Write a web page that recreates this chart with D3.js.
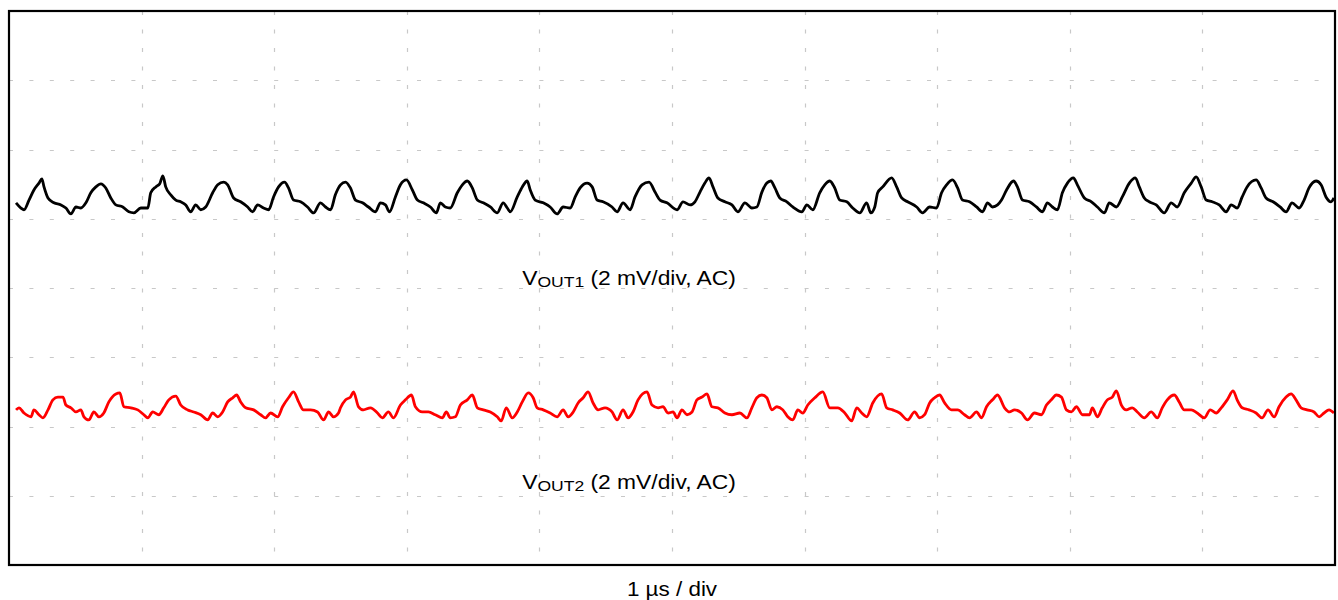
<!DOCTYPE html>
<html>
<head>
<meta charset="utf-8">
<script src="https://cdn.jsdelivr.net/npm/d3@7"></script>
<style>
  html, body { margin: 0; padding: 0; background: #fff; }
  svg { display: block; }
  .scope-label { font-family: "Liberation Sans", Arial, sans-serif; fill: #000; }
</style>
</head>
<body>
<div id="chart"></div>
<script>
// scope capture: VOUT1 / VOUT2 ripple, 1 us/div, 2 mV/div

// time axis (us) and screen range (mV, 8 divisions of 2 mV)
const timeDomain = [0, 10];
const voltDomain = [-8, 8];
const ch1Offset = 2.40;   // mV, trace position on screen
const ch2Offset = -3.52;

// VOUT1 samples: time (us), ripple (mV)
const t1 = [0.053,0.090,0.113,0.151,0.188,0.226,0.248,0.264,0.294,0.339,0.392,0.429,0.467,0.505,0.542,0.580,0.617,0.655,0.693,0.730,0.768,0.806,0.858,0.904,0.941,0.994,1.047,1.069,1.107,1.137,1.160,1.182,1.220,1.258,1.295,1.333,1.370,1.408,1.446,1.483,1.536,1.574,1.619,1.649,1.694,1.747,1.800,1.837,1.875,1.920,1.958,1.995,2.033,2.078,2.108,2.146,2.199,2.251,2.297,2.349,2.387,2.425,2.462,2.500,2.538,2.575,2.613,2.666,2.711,2.764,2.801,2.839,2.869,2.914,2.952,2.997,3.042,3.080,3.125,3.178,3.223,3.253,3.291,3.328,3.381,3.419,3.456,3.494,3.532,3.577,3.630,3.682,3.727,3.758,3.780,3.833,3.871,3.908,3.931,3.968,4.029,4.081,4.134,4.179,4.232,4.270,4.307,4.360,4.398,4.435,4.480,4.548,4.586,4.631,4.684,4.721,4.774,4.827,4.872,4.910,4.962,5.038,5.083,5.136,5.173,5.211,5.248,5.279,5.309,5.346,5.399,5.452,5.497,5.550,5.602,5.640,5.678,5.715,5.745,5.776,5.813,5.866,5.911,5.979,6.017,6.062,6.114,6.152,6.190,6.227,6.265,6.318,6.363,6.416,6.468,6.499,6.529,6.551,6.589,6.657,6.694,6.732,6.777,6.845,6.890,6.943,6.995,7.033,7.071,7.116,7.154,7.191,7.244,7.297,7.342,7.380,7.417,7.455,7.485,7.523,7.575,7.605,7.643,7.696,7.748,7.794,7.831,7.869,7.907,7.944,7.982,8.027,8.057,8.110,8.163,8.208,8.261,8.298,8.351,8.396,8.449,8.494,8.524,8.562,8.599,8.652,8.712,8.765,8.810,8.863,8.916,8.953,8.991,9.029,9.074,9.127,9.179,9.217,9.262,9.300,9.337,9.405,9.443,9.480,9.533,9.586,9.631,9.676,9.729,9.767,9.804,9.857,9.895,9.932,9.970,9.992];
const vout1 = [0.06,-0.09,-0.14,0.14,0.43,0.63,0.75,0.52,0.20,0.06,0,-0.09,-0.26,-0.06,-0.09,0.06,0.35,0.52,0.61,0.49,0.20,0,-0.06,-0.20,-0.23,-0.09,-0.09,0.35,0.52,0.61,0.84,0.52,0.29,0.14,0.09,0,-0.20,0,-0.14,-0.06,0.35,0.58,0.66,0.58,0.20,0.09,-0.06,-0.20,0,-0.09,-0.14,0.23,0.52,0.66,0.49,0.14,0.09,-0.06,-0.23,0.06,-0.06,-0.14,0.30,0.58,0.66,0.49,0.14,0.06,-0.06,-0.20,0.06,0,-0.20,0.23,0.58,0.72,0.43,0.14,0.06,-0.06,-0.23,0.06,-0.06,-0.09,0.35,0.58,0.69,0.49,0.14,0.06,-0.06,-0.23,0.06,-0.09,-0.20,0.23,0.52,0.69,0.43,0.14,0.06,-0.06,-0.26,-0.06,-0.09,0.23,0.49,0.63,0.52,0.14,0.09,-0.06,-0.20,0.06,-0.14,0.23,0.58,0.66,0.37,0.14,0.06,-0.14,0.09,0,0.09,0.37,0.63,0.78,0.52,0.20,0.09,0,-0.20,0.06,-0.09,-0.06,0.37,0.63,0.69,0.49,0.20,0.09,-0.06,-0.20,0,-0.14,0.35,0.58,0.69,0.49,0.14,0.09,-0.09,-0.23,0.06,-0.23,-0.06,0.35,0.52,0.78,0.52,0.20,0.09,-0.06,-0.23,-0.06,-0.09,0.35,0.58,0.72,0.49,0.14,0.09,-0.06,-0.20,0.06,-0.06,0,0.14,0.43,0.69,0.52,0.14,0.09,-0.06,-0.20,0.06,-0.06,-0.14,0.35,0.63,0.78,0.58,0.20,0.09,-0.06,-0.23,0.06,-0.06,0.23,0.63,0.78,0.52,0.20,0.09,0,-0.23,0.06,-0.06,0.35,0.63,0.81,0.52,0.14,0.09,0,-0.20,0,-0.09,0.23,0.52,0.72,0.49,0.20,0.09,-0.06,-0.20,0.06,-0.09,0.14,0.49,0.69,0.58,0.23,0.09,0.20];

// VOUT2 samples: time (us), ripple (mV)
const t2 = [0.053,0.075,0.113,0.166,0.188,0.226,0.256,0.294,0.331,0.369,0.407,0.429,0.467,0.505,0.542,0.565,0.602,0.640,0.678,0.715,0.753,0.806,0.836,0.866,0.919,0.971,1.017,1.047,1.084,1.130,1.167,1.205,1.258,1.295,1.348,1.393,1.446,1.498,1.536,1.574,1.611,1.649,1.687,1.717,1.747,1.785,1.845,1.898,1.935,1.973,2.026,2.063,2.108,2.146,2.184,2.221,2.274,2.327,2.372,2.410,2.447,2.485,2.500,2.538,2.575,2.598,2.636,2.673,2.726,2.779,2.816,2.861,2.899,2.952,2.990,3.035,3.065,3.117,3.163,3.215,3.268,3.298,3.328,3.366,3.404,3.456,3.494,3.532,3.577,3.630,3.682,3.712,3.750,3.795,3.833,3.871,3.916,3.953,3.983,4.029,4.081,4.134,4.179,4.217,4.255,4.292,4.330,4.367,4.405,4.443,4.495,4.548,4.586,4.631,4.669,4.706,4.744,4.812,4.849,4.895,4.932,4.970,5.008,5.038,5.075,5.113,5.151,5.188,5.226,5.264,5.301,5.346,5.399,5.452,5.512,5.565,5.602,5.640,5.678,5.715,5.753,5.791,5.836,5.873,5.911,5.949,5.986,6.024,6.077,6.137,6.190,6.250,6.303,6.355,6.393,6.431,6.468,6.514,6.581,6.619,6.664,6.717,6.777,6.830,6.867,6.905,6.943,6.980,7.018,7.056,7.108,7.154,7.206,7.244,7.297,7.334,7.372,7.417,7.455,7.508,7.545,7.583,7.636,7.681,7.733,7.786,7.824,7.861,7.899,7.937,7.974,8.012,8.050,8.095,8.148,8.170,8.208,8.245,8.283,8.321,8.351,8.389,8.426,8.471,8.509,8.562,8.614,8.660,8.697,8.735,8.788,8.825,8.863,8.916,8.961,9.014,9.059,9.104,9.142,9.187,9.232,9.262,9.300,9.352,9.405,9.450,9.495,9.541,9.578,9.631,9.669,9.706,9.744,9.789,9.842,9.880,9.917,9.955,9.992];
const vout2 = [0,0.06,-0.09,-0.20,0,-0.14,-0.23,0,0.29,0.37,0.37,0.14,0.06,-0.06,0,-0.20,-0.29,-0.06,-0.20,-0.09,0.23,0.46,0.49,0.09,0.06,0,-0.14,-0.23,-0.06,-0.14,0.06,0.29,0.40,0.14,0,-0.06,-0.14,-0.29,-0.09,-0.20,-0.06,0.23,0.35,0.43,0.23,0.06,0,-0.14,-0.23,-0.09,-0.20,0.09,0.35,0.52,0.23,0,0,-0.06,-0.29,-0.06,-0.20,-0.09,0.06,0.29,0.37,0.52,0.09,0,0.06,-0.09,-0.23,-0.06,-0.23,0.14,0.29,0.43,0.09,-0.06,-0.06,-0.14,-0.23,-0.06,-0.23,-0.20,0.14,0.29,0.43,0.06,0,-0.06,-0.20,-0.32,0.06,-0.23,-0.06,0.23,0.49,0.35,0.06,0,-0.09,-0.20,0,-0.20,-0.06,0.20,0.35,0.52,0.20,0,0.06,-0.06,-0.29,0,-0.23,-0.06,0.29,0.52,0.14,0.06,0.09,-0.09,-0.06,-0.23,0,-0.14,-0.06,0.29,0.37,0.46,0.09,0.06,-0.09,-0.14,-0.09,-0.23,0.06,0.35,0.43,0.35,0,0.09,0,-0.20,-0.29,0,-0.09,0.14,0.35,0.52,0.06,0.06,-0.09,-0.32,0.06,-0.09,-0.20,0.20,0.46,0.06,0,-0.09,-0.29,-0.06,-0.23,-0.14,0.20,0.35,0.43,0.20,0,0,-0.14,-0.23,-0.06,-0.23,0.09,0.29,0.43,0.06,-0.06,0,-0.09,-0.29,-0.09,-0.14,0.14,0.29,0.43,0.37,0,-0.06,0.09,-0.14,-0.14,0.06,-0.20,0.06,0.29,0.37,0.55,0.14,0,0.06,-0.06,-0.23,-0.06,-0.23,0.06,0.29,0.43,0.23,0,0,-0.09,-0.23,0,-0.09,0.06,0.29,0.55,0.29,0.06,0,-0.09,-0.23,0,-0.20,0.09,0.37,0.46,0.29,0.06,0,-0.06,-0.20,-0.09,0,-0.09];

// annotations
const ch1Label = { main: "V", sub: "OUT1", rest: " (2 mV/div, AC)", t: 3.87, v: 0.1 };
const ch2Label = { main: "V", sub: "OUT2", rest: " (2 mV/div, AC)", t: 3.87, v: -5.8 };
const timeLabel = "1 \u00b5s / div";

const W = 1338, H = 600;
const frame = { left: 9, top: 11, right: 1335, bottom: 565 };

const svg = d3.select("#chart").append("svg").attr("width", W).attr("height", H);

const x = d3.scaleLinear().domain(timeDomain).range([frame.left, frame.right]);
const y = d3.scaleLinear().domain(voltDomain).range([frame.bottom, frame.top]);

// dashed graticule
const grid = svg.append("g").attr("stroke", "#c8c8c8").attr("stroke-width", 1.2);
grid.selectAll("line.v").data(x.ticks(10).slice(1, -1)).enter().append("line")
  .attr("class", "v")
  .attr("x1", d => Math.round(x(d)) + 0.5).attr("x2", d => Math.round(x(d)) + 0.5)
  .attr("y1", frame.top).attr("y2", frame.bottom)
  .attr("stroke-dasharray", "4,14.5");
grid.selectAll("line.h").data(d3.range(voltDomain[0] + 2, voltDomain[1], 2)).enter().append("line")
  .attr("class", "h")
  .attr("y1", d => Math.round(y(d)) + 0.5).attr("y2", d => Math.round(y(d)) + 0.5)
  .attr("x1", frame.left).attr("x2", frame.right)
  .attr("stroke-dasharray", "4,16.4");

// traces
const line = d3.line().curve(d3.curveMonotoneX).x(d => x(d[0])).y(d => y(d[1]));
const trace1 = t1.map((t, i) => [t, vout1[i] + ch1Offset]);
const trace2 = t2.map((t, i) => [t, vout2[i] + ch2Offset]);

svg.append("path").datum(trace1).attr("d", line)
  .attr("fill", "none").attr("stroke", "#000").attr("stroke-width", 2.8)
  .attr("stroke-linejoin", "round");
svg.append("path").datum(trace2).attr("d", line)
  .attr("fill", "none").attr("stroke", "#ff0000").attr("stroke-width", 2.8)
  .attr("stroke-linejoin", "round");

// frame
svg.append("rect")
  .attr("x", frame.left).attr("y", frame.top)
  .attr("width", frame.right - frame.left).attr("height", frame.bottom - frame.top)
  .attr("fill", "none").attr("stroke", "#000").attr("stroke-width", 2.2);

// channel labels (text is a little wide in the capture)
function channelLabel(lab) {
  const txt = svg.append("text").attr("class", "scope-label")
    .attr("transform", `translate(${x(lab.t)},${y(lab.v)}) scale(1.17,1)`)
    .attr("font-size", "19.5px");
  txt.append("tspan").text(lab.main);
  txt.append("tspan").attr("font-size", "15px").attr("dy", 2).text(lab.sub);
  txt.append("tspan").attr("dy", -2).text(lab.rest);
}
channelLabel(ch1Label);
channelLabel(ch2Label);

svg.append("text").attr("class", "scope-label")
  .attr("transform", `translate(${(frame.left + frame.right) / 2},596) scale(1.15,1)`)
  .attr("text-anchor", "middle").attr("font-size", "19.5px")
  .text(timeLabel);
</script>
</body>
</html>
